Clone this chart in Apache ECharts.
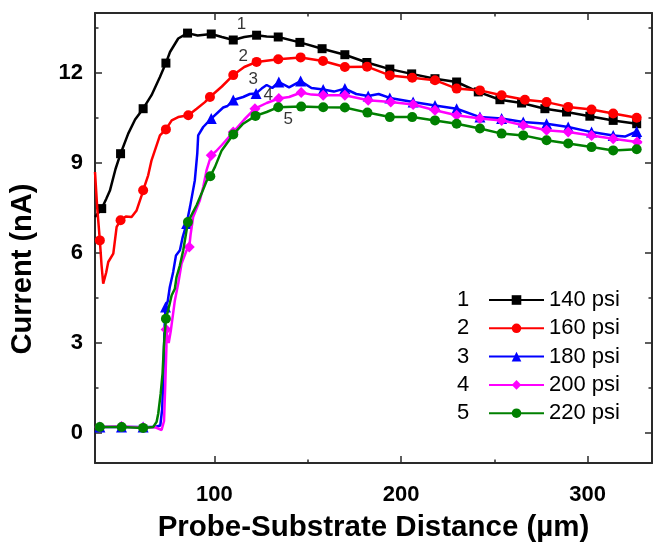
<!DOCTYPE html>
<html><head><meta charset="utf-8">
<script src="https://cdn.jsdelivr.net/npm/echarts@6/dist/echarts.min.js"></script>
<style>html,body{margin:0;padding:0;background:#fff}#c{width:653px;height:548px}</style>
</head><body><div id="c"></div><script>
// ---------------- data ----------------
const seriesNames = ['140 psi', '160 psi', '180 psi', '200 psi', '220 psi'];
const curveNumbers = ['1', '2', '3', '4', '5'];
const xTickLabels = [100, 200, 300];
const xMinorTicks = [150, 250];
const yTickLabels = [0, 3, 6, 9, 12];
const yMinorTicks = [1.5, 4.5, 7.5, 10.5, 13.5];

const psi140 = [[36,7.2],[39.6,7.48],[42,7.8],[44,8.08],[47,8.8],[49.7,9.31],[53.8,9.98],[57.5,10.45],[61.8,10.81],[66.3,11.26],[70.8,11.87],[74,12.33],[76.2,12.7],[80.6,13.15],[85.6,13.33],[91,13.25],[98.3,13.3],[104,13.2],[110.1,13.1],[116,13.2],[122.6,13.26],[128,13.22],[134.2,13.2],[145.8,13.02],[157.7,12.81],[169.9,12.61],[181.7,12.35],[194,12.13],[205.7,11.97],[218.2,11.81],[229.8,11.7],[241.4,11.37],[253,11.11],[264.6,11.0],[277.1,10.81],[288.7,10.7],[301.2,10.56],[313.7,10.42],[326.3,10.31],[328,10.3]];
const psi160 = [[36,8.7],[37.2,7.5],[38.6,6.42],[39.5,5.6],[40.4,4.98],[42,5.35],[43.1,5.7],[45.8,5.98],[47.6,6.87],[49.7,7.09],[52.5,7.22],[55.6,7.2],[58.3,7.42],[61,7.92],[61.8,8.09],[64.5,8.59],[66.3,9.09],[69,9.59],[70.8,9.92],[74,10.12],[77.1,10.42],[80.6,10.53],[86,10.59],[90.5,10.81],[94.9,11.03],[97.6,11.2],[104,11.55],[110.1,11.93],[116,12.2],[122.6,12.37],[134.2,12.46],[146.2,12.52],[158.2,12.4],[169.9,12.2],[181.8,12.21],[194,11.92],[206,11.84],[218.2,11.76],[229.8,11.48],[242.3,11.42],[253.9,11.26],[266.4,11.11],[278,11.03],[289.6,10.87],[302.1,10.78],[313.7,10.65],[326.3,10.51],[328,10.45]];
const psi180 = [[36,0.2],[38.6,0.2],[50.2,0.2],[61.8,0.2],[68,0.2],[71,0.25],[72,0.8],[72.7,2.0],[73.2,3.4],[73.8,4.2],[75,4.4],[76.1,4.87],[77.9,5.37],[79.4,5.92],[81.5,6.09],[83,6.53],[85.1,6.98],[86.9,7.53],[89.5,8.42],[90.8,9.31],[91.3,9.92],[94,10.2],[98.3,10.48],[104.7,10.85],[107,10.9],[110.1,11.1],[115.4,11.2],[119,11.3],[122.3,11.32],[125.3,11.48],[128,11.6],[131,11.5],[134.5,11.7],[140,11.52],[146.2,11.73],[152,11.5],[158.3,11.45],[164,11.38],[169.9,11.48],[176,11.3],[182.4,11.23],[188,11.3],[194,11.17],[206.5,11.03],[218.2,10.92],[229.8,10.81],[242.3,10.53],[253.9,10.48],[265.5,10.37],[278,10.31],[289.6,10.2],[302.1,10.03],[313.7,9.92],[320,9.88],[326.3,10.05],[328,9.8]];
const psi200 = [[36,0.2],[38.6,0.2],[50.2,0.22],[61.8,0.18],[68,0.2],[71.7,0.1],[73,0.4],[73.6,1.5],[74.3,2.9],[74.1,3.45],[75.5,3.0],[76.6,3.4],[78.8,4.42],[80.6,4.98],[82.4,5.65],[85.1,6.09],[86.5,6.2],[87.2,6.6],[88.6,7.2],[92.2,7.76],[94,8.2],[95.8,8.76],[98.3,9.26],[101,9.4],[104,9.6],[110.1,10.03],[116,10.45],[121.7,10.81],[128,11.0],[134.5,11.15],[140,11.2],[146.5,11.35],[152,11.28],[158.3,11.26],[169.9,11.26],[182.4,11.09],[194.5,11.03],[206.5,10.95],[218.2,10.76],[229.8,10.59],[242.3,10.48],[253.9,10.42],[265.5,10.26],[278,10.09],[289.6,10.03],[302.1,9.92],[313.7,9.81],[326.5,9.7],[329,9.68]];
const psi220 = [[36,0.2],[38.6,0.2],[50.3,0.2],[61.8,0.17],[67.2,0.2],[69,0.37],[69.9,0.65],[71.2,1.31],[72.2,1.98],[72.9,2.87],[74,3.81],[75.2,4.09],[77.1,4.59],[78.8,4.81],[79.7,5.2],[81.5,5.59],[83.3,6.09],[85.8,7.03],[88.6,7.37],[90.5,7.6],[93.1,7.98],[95.8,8.4],[97.8,8.56],[100.3,8.87],[103.9,9.42],[110.1,9.95],[115.4,10.31],[122,10.57],[128,10.7],[134.2,10.86],[146.5,10.88],[158.3,10.86],[169.9,10.85],[182,10.68],[194,10.53],[206,10.53],[218.2,10.42],[229.8,10.31],[242.3,10.15],[253.9,9.98],[265.5,9.92],[278,9.76],[289.6,9.65],[302.1,9.53],[313.7,9.42],[326.3,9.46],[328,9.43]];
// curve number annotation anchors (data coordinates)
const curveLabelX = [114.5, 115.4, 120.8, 128.8, 139.5];
const curveLabelY = [13.62, 12.55, 11.8, 11.25, 10.45];

// ---------------- rendering ----------------
const allData = [psi140, psi160, psi180, psi200, psi220];
const colors = ['#000000', '#ff0000', '#0000ff', '#ff00ff', '#008000'];
const symbols = ['rect', 'circle', 'triangle', 'diamond', 'circle'];
const symSizes = [9, 10, 11, 11, 10];
const X_MIN = 36, X_MAX = 334.5, Y_MIN = -1, Y_MAX = 14;
const MARK_START = 38, MARK_STEP = 12;
const FONT = 'Liberation Sans, Arial, sans-serif';

function markerFlags(data) {
  const flags = data.map(() => false);
  for (let g = MARK_START; g <= X_MAX; g += MARK_STEP) {
    let best = -1, bd = 1.7;
    data.forEach((p, i) => { const d = Math.abs(p[0] - g); if (d < bd) { bd = d; best = i; } });
    if (best >= 0) flags[best] = true;
  }
  return flags;
}

const axisLineStyle = { color: '#2a2a2a', width: 2 };
function xAx(pos, labels, ticks, len, showLine, name) {
  return {
    type: 'value', position: pos, min: X_MIN, max: X_MAX,
    axisLine: { show: showLine, onZero: false, lineStyle: axisLineStyle },
    axisTick: { show: true, inside: true, length: len, customValues: ticks, lineStyle: { color: '#2a2a2a', width: 1.5 } },
    axisLabel: labels ? { show: true, customValues: labels, margin: 21, fontSize: 22, fontWeight: 'bold', fontFamily: FONT, color: '#000' } : { show: false },
    splitLine: { show: false },
    name: name || '', nameLocation: 'middle', nameGap: 50,
    nameTextStyle: { fontSize: 29.5, fontWeight: 'bold', fontFamily: FONT, color: '#000' }
  };
}
function yAx(pos, labels, ticks, len, showLine, name) {
  return {
    type: 'value', position: pos, min: Y_MIN, max: Y_MAX,
    axisLine: { show: showLine, onZero: false, lineStyle: axisLineStyle },
    axisTick: { show: true, inside: true, length: len, customValues: ticks, lineStyle: { color: '#2a2a2a', width: 1.5 } },
    axisLabel: labels ? { show: true, customValues: labels, margin: 12, fontSize: 22, fontWeight: 'bold', fontFamily: FONT, color: '#000' } : { show: false },
    splitLine: { show: false },
    name: name || '', nameLocation: 'middle', nameGap: 58,
    nameTextStyle: { fontSize: 29, fontWeight: 'bold', fontFamily: FONT, color: '#000', padding: [0, 62, 0, 0] }
  };
}

const series = allData.map((d, k) => {
  const flags = markerFlags(d);
  return {
    name: seriesNames[k], type: 'line', data: d, xAxisIndex: 0, yAxisIndex: 0,
    symbol: symbols[k], showSymbol: true, showAllSymbol: true,
    symbolSize: (v, p) => flags[p.dataIndex] ? symSizes[k] : 0,
    lineStyle: { color: colors[k], width: 2.5 }, itemStyle: { color: colors[k] },
    animation: false, z: 2 + k
  };
});
series.push({
  type: 'scatter', name: 'curve-numbers', xAxisIndex: 0, yAxisIndex: 0, silent: true,
  symbolSize: 1, itemStyle: { color: 'rgba(0,0,0,0)' },
  data: curveNumbers.map((t, i) => ({ name: t, value: [curveLabelX[i], curveLabelY[i]] })),
  label: { show: true, position: 'inside', formatter: p => p.name, fontSize: 17, fontFamily: FONT, color: '#000' },
  z: 10, animation: false
});

const legendTop = 289, legendRow = 28.3;
const chart = echarts.init(document.getElementById('c'));
chart.setOption({
  backgroundColor: '#fff',
  animation: false,
  grid: { left: 95, right: 1, top: 13, bottom: 85, containLabel: false },
  xAxis: [
    xAx('bottom', xTickLabels, xTickLabels, 7, true, 'Probe-Substrate Distance (µm)'),
    xAx('top', null, xTickLabels, 7, true),
    xAx('bottom', null, xMinorTicks, 3.5, false),
    xAx('top', null, xMinorTicks, 3.5, false)
  ],
  yAxis: [
    yAx('left', yTickLabels, yTickLabels, 7, true, 'Current (nA)'),
    yAx('right', null, yTickLabels, 7, true),
    yAx('left', null, yMinorTicks, 3.5, false),
    yAx('right', null, yMinorTicks, 3.5, false)
  ],
  legend: {
    data: seriesNames, orient: 'vertical', left: 488, top: legendTop,
    itemWidth: 55, itemHeight: 12, itemGap: legendRow - 22, padding: 0,
    textStyle: { fontSize: 22, lineHeight: 22, fontFamily: FONT, color: '#000' }
  },
  graphic: curveNumbers.map((t, i) => ({
    type: 'text', x: 463, y: legendTop + 11 + legendRow * i,
    style: { text: t, fontSize: 22, fontFamily: FONT, fill: '#000', align: 'center', verticalAlign: 'middle' }
  })),
  series: series
});
</script></body></html>
